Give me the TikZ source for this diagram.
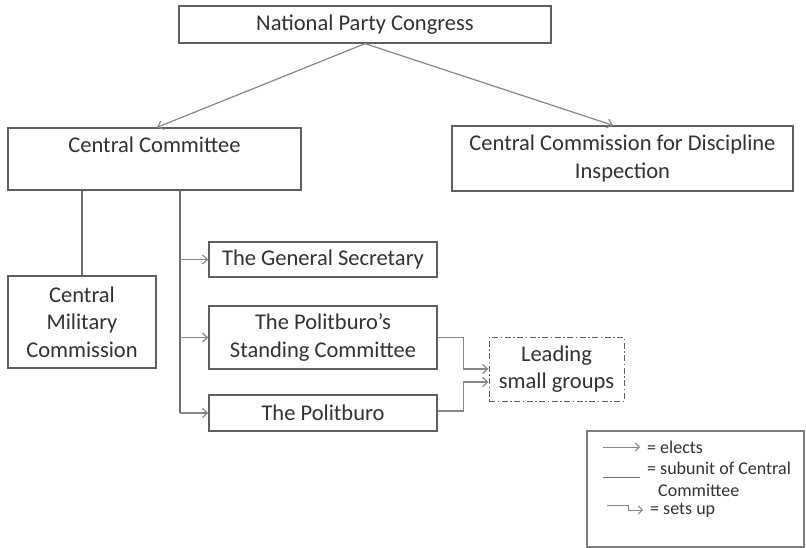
\documentclass[tikz,border=0pt]{standalone}
\usepackage{fontspec}
\setmainfont{Carlito}
\usetikzlibrary{arrows.meta,calc}
\definecolor{boxc}{RGB}{95,95,95}
\definecolor{arrc}{RGB}{135,135,135}
\definecolor{linec}{RGB}{110,110,110}
\definecolor{txtc}{RGB}{50,50,50}
\definecolor{legc}{RGB}{125,125,125}
\begin{document}
\begin{tikzpicture}[x=1pt,y=-1pt,
  box/.style={draw=boxc, line width=1.3pt, fill=white, inner sep=0pt},
  txt/.style={text=txtc, font=\fontsize{22.5}{27.5}\selectfont, align=center, inner sep=0pt},
  ltxt/.style={text=txtc, font=\fontsize{18}{22}\selectfont, align=left, inner sep=0pt, anchor=west},
  arr/.style={draw=arrc, line width=1.2pt, -{Straight Barb[length=5pt,width=9pt]}},
  ln/.style={draw=linec, line width=1.3pt}]
\useasboundingbox (0,0) rectangle (806,548);
\fill[white] (0,0) rectangle (806,548);

% boxes
\node[box, txt, minimum width=372pt, minimum height=37pt] (npc) at (365,24.5) {National Party Congress};
\node[box, minimum width=293pt, minimum height=62pt] (cc) at (154.5,159) {};
\node[txt] (cctext) at (154.5,145) {Central Committee};
\node[box, txt, minimum width=341pt, minimum height=65pt] (ccdi) at (622.5,158.5) {Central Commission for Discipline\\Inspection};
\node[box, txt, minimum width=148pt, minimum height=92pt] (cmc) at (82,322) {Central\\Military\\Commission};
\node[box, txt, minimum width=228pt, minimum height=35pt] (gs) at (323,259.5) {The General Secretary};
\node[box, txt, minimum width=228pt, minimum height=63pt] (psc) at (323,337.5) {The Politburo’s\\Standing Committee};
\node[box, txt, minimum width=228pt, minimum height=36pt] (pb) at (323,413) {The Politburo};
\node[box, txt, draw=boxc, line width=1pt, dash pattern=on 6pt off 2.5pt on 1.5pt off 2.5pt,
      minimum width=135pt, minimum height=64pt] (lsg) at (556.5,369) {Leading\\small groups};

% elects from congress
\draw[arr] (npc.south) -- ($(cc.north)+(2.5,0)$);
\draw[arr] (npc.south) -- ($(ccdi.north)+(-9.5,0)$);

% subunit
\draw[ln] (cmc.north |- cc.south) -- (cmc.north);

% spine
\coordinate (sp) at (180,190);
\draw[ln] (sp) -- (sp |- pb.west);
\draw[arr] (sp |- gs.west) -- (gs.west);
\draw[arr] (sp |- psc.west) -- (psc.west);
\draw[arr] (sp |- pb.west) -- (pb.west);

% sets up
\draw[arr] (psc.east) -- ++(26,0) |- (lsg.west);
\draw[arr] ($(pb.east)+(0,-2)$) -- ++(26,0) |- ($(lsg.west)+(0,13)$);

% legend
\node[draw=legc, line width=1.1pt, minimum width=217pt, minimum height=116pt, inner sep=0pt] (leg) at (695.5,489) {};
\coordinate (la1) at (603,447);
\coordinate (la2) at (640,447);
\draw[arr, line width=1pt, -{Straight Barb[length=4pt,width=8pt]}] (la1) -- (la2);
\node[ltxt] (lt1) at (647,447) {= elects};
\coordinate (ll1) at (603,477);
\coordinate (ll2) at (640,477);
\draw[ln, line width=1pt] (ll1) -- (ll2);
\node[ltxt] (lt2) at (647,479) {= subunit of Central\\\hspace*{11pt}Committee};
\coordinate (ls1) at (607,505);
\coordinate (ls2) at (643,510);
\draw[arr, line width=1pt, -{Straight Barb[length=4pt,width=8pt]}] (ls1) -- (628,505) |- (ls2);
\node[ltxt] (lt3) at (650,510) {= sets up};
\end{tikzpicture}
\end{document}
